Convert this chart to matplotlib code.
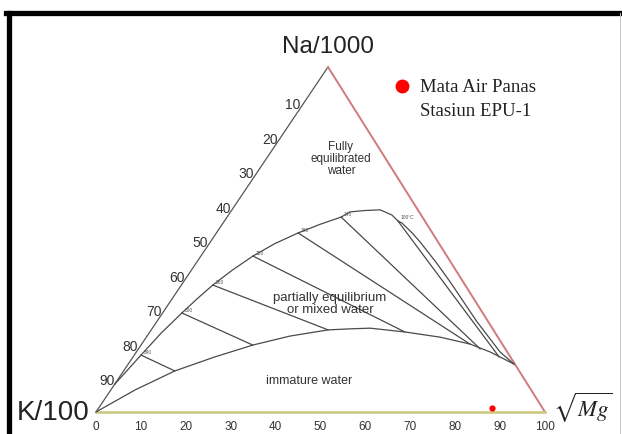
"""Giggenbach Na-K-Mg ternary diagram with the EPU-1 hot spring sample."""

import matplotlib.pyplot as plt
import numpy as np
from matplotlib.lines import Line2D

FIG_W_PX, FIG_H_PX = 622, 435
DPI = 100

# where the triangle sits in the picture (pixels from top-left)
K_CORNER_PX = (96, 413)
BASE_PX = 449
HEIGHT_PX = 345
APEX_SHIFT = 232 / 449

SIDE_TICKS = [10, 20, 30, 40, 50, 60, 70, 80, 90]
BOTTOM_TICKS = [0, 10, 20, 30, 40, 50, 60, 70, 80, 90, 100]

# full equilibrium line, ternary percentages (Na/1000, sqrt Mg)
FULL_EQ_NA = [8.0, 16.5, 22.9, 28.7, 32.9, 36.8, 41.1, 45.2, 48.8, 51.9, 54.4, 56.5, 58.0,
              58.4, 58.6, 57.1, 55.4, 54.8, 51.9, 49.3, 43.5, 37.7, 26.1, 17.4, 13.9]
FULL_EQ_MG = [0.0, 1.5, 2.7, 4.3, 5.6, 7.0, 9.1, 11.6, 14.6, 18.2, 21.8, 25.4, 26.6,
              29.7, 33.0, 36.4, 38.6, 39.8, 43.6, 46.7, 53.2, 59.4, 71.4, 81.0, 85.9]

# immature water boundary
IMMATURE_NA = [0.0, 6.4, 11.9, 15.9, 19.4, 22.0, 23.8, 24.1, 24.3, 23.2, 21.7, 19.7, 17.4, 13.9]
IMMATURE_MG = [0.0, 5.4, 11.4, 18.1, 24.9, 31.8, 39.4, 44.1, 48.5, 56.8, 65.4, 73.1, 78.8, 85.9]

# isotherms between the two curves
ISO_LABELS = ["340", "300", "260", "220", "180", "140", "100°C"]
ISO_TOP_NA = [16.5, 28.7, 36.8, 45.2, 51.9, 56.5, 55.4]
ISO_TOP_MG = [1.5, 4.3, 7.0, 11.6, 18.2, 25.4, 38.6]
ISO_BOTTOM_NA = [11.9, 19.4, 23.8, 23.2, 19.7, 18.3, 16.0]
ISO_BOTTOM_MG = [11.4, 24.9, 39.4, 56.8, 73.1, 76.1, 81.5]

# region names, their centres (Na, Mg) and sizes
REGION_TEXTS = ["Fully\nequilibrated\nwater", "partially equilibrium\nor mixed water", "immature water"]
REGION_NA = [73.6, 31.6, 9.3]
REGION_MG = [16.5, 35.8, 42.6]
REGION_SIZES = [8.5, 9.5, 9]

SAMPLE_NA = [1.2]
SAMPLE_MG = [87.6]
SAMPLE_LABEL = "Mata Air Panas\nStasiun EPU-1"

LINE_GREY = "#4a4a4a"
TEXT_GREY = "#333333"


def to_xy(na, mg):
    """Converts ternary percentages to the skewed cartesian frame of the plot."""
    na = np.asarray(na, dtype=float) / 100
    mg = np.asarray(mg, dtype=float) / 100
    return mg + na * APEX_SHIFT, na


def draw_frame(fig):
    """Draws the black screenshot border round the figure."""
    top = 1 - 14 / FIG_H_PX
    fig.add_artist(Line2D([6 / FIG_W_PX, 1], [top, top], color="black", lw=3.8))
    fig.add_artist(Line2D([8.5 / FIG_W_PX, 8.5 / FIG_W_PX], [0, top], color="black", lw=3.8))
    fig.add_artist(Line2D([620 / FIG_W_PX, 620 / FIG_W_PX], [0, top], color="#c8c8c8", lw=0.7))


def draw_triangle(ax):
    """Draws the three edges and their tick labels."""
    x, y = to_xy([0, 100], [0, 0])
    ax.plot(x, y, color="#555555", lw=0.9)
    x, y = to_xy([100, 0], [0, 100])
    ax.plot(x, y, color="#de8f8f", lw=1.5)
    ax.plot(x, y, color="#b46868", lw=0.4)
    x, y = to_xy([0, 0], [0, 100])
    ax.plot(x, y, color="#c9c77a", lw=1.8)

    for value in SIDE_TICKS:
        x, y = to_xy(100 - value, 0)
        ax.annotate(str(value), (x, y), xytext=(-3, -2), textcoords="offset points",
                    ha="right", va="center", fontsize=10, color=TEXT_GREY)
    for value in BOTTOM_TICKS:
        x, y = to_xy(0, value)
        ax.annotate(str(value), (x, y), xytext=(0, -10), textcoords="offset points",
                    ha="center", va="center", fontsize=8.5, color=TEXT_GREY)

    x, y = to_xy(100, 0)
    ax.annotate("Na/1000", (x, y), xytext=(0, 15), textcoords="offset points",
                ha="center", va="center", fontsize=17.5, color="#222222")
    x, y = to_xy(0, 0)
    ax.annotate("K/100", (x, y), xytext=(-5, 0), textcoords="offset points",
                ha="right", va="center", fontsize=20, color="#222222")
    x, y = to_xy(0, 100)
    ax.annotate(r"$\sqrt{Mg}$", (x, y), xytext=(6, 4), textcoords="offset points",
                ha="left", va="center", fontsize=16.5, color="#222222", math_fontfamily="stix")


def draw_fields(ax):
    """Draws the equilibrium curves, the isotherms and the field names."""
    x, y = to_xy(FULL_EQ_NA, FULL_EQ_MG)
    ax.plot(x, y, color=LINE_GREY, lw=0.9)
    x, y = to_xy(IMMATURE_NA, IMMATURE_MG)
    ax.plot(x, y, color=LINE_GREY, lw=0.9)

    for label, na0, mg0, na1, mg1 in zip(ISO_LABELS, ISO_TOP_NA, ISO_TOP_MG, ISO_BOTTOM_NA, ISO_BOTTOM_MG):
        x, y = to_xy([na0, na1], [mg0, mg1])
        ax.plot(x, y, color=LINE_GREY, lw=0.9)
        ax.annotate(label, (x[0], y[0]), xytext=(2, 1), textcoords="offset points",
                    ha="left", va="bottom", fontsize=3.5, color="#555555")

    for text, na, mg, size in zip(REGION_TEXTS, REGION_NA, REGION_MG, REGION_SIZES):
        x, y = to_xy(na, mg)
        ax.text(x, y, text, ha="center", va="center", fontsize=size, color=TEXT_GREY,
                linespacing=1.0)


def draw_sample(fig, ax):
    """Plots the hot spring sample and its legend entry."""
    x, y = to_xy(SAMPLE_NA, SAMPLE_MG)
    ax.plot(x, y, "o", color="red", markersize=4.5, markeredgewidth=0)

    fig.add_artist(Line2D([402 / FIG_W_PX], [1 - 87 / FIG_H_PX], marker="o", color="red",
                          markersize=10, markeredgewidth=0, linestyle="none"))
    fig.text(420 / FIG_W_PX, 1 - 99.5 / FIG_H_PX, SAMPLE_LABEL, ha="left", va="center",
             fontsize=13.5, family="Liberation Serif", color="#222222", linespacing=1.5)


def main():
    plt.rcParams["font.family"] = ["Liberation Sans", "DejaVu Sans"]
    fig = plt.figure(figsize=(FIG_W_PX / DPI, FIG_H_PX / DPI), dpi=DPI)
    ax = fig.add_axes([0, 0, 1, 1])
    kx, ky = K_CORNER_PX
    ax.set_xlim(-kx / BASE_PX, (FIG_W_PX - kx) / BASE_PX)
    ax.set_ylim((ky - FIG_H_PX) / HEIGHT_PX, ky / HEIGHT_PX)
    ax.axis("off")

    draw_frame(fig)
    draw_triangle(ax)
    draw_fields(ax)
    draw_sample(fig, ax)

    fig.savefig("out.png", dpi=DPI)


if __name__ == "__main__":
    main()
